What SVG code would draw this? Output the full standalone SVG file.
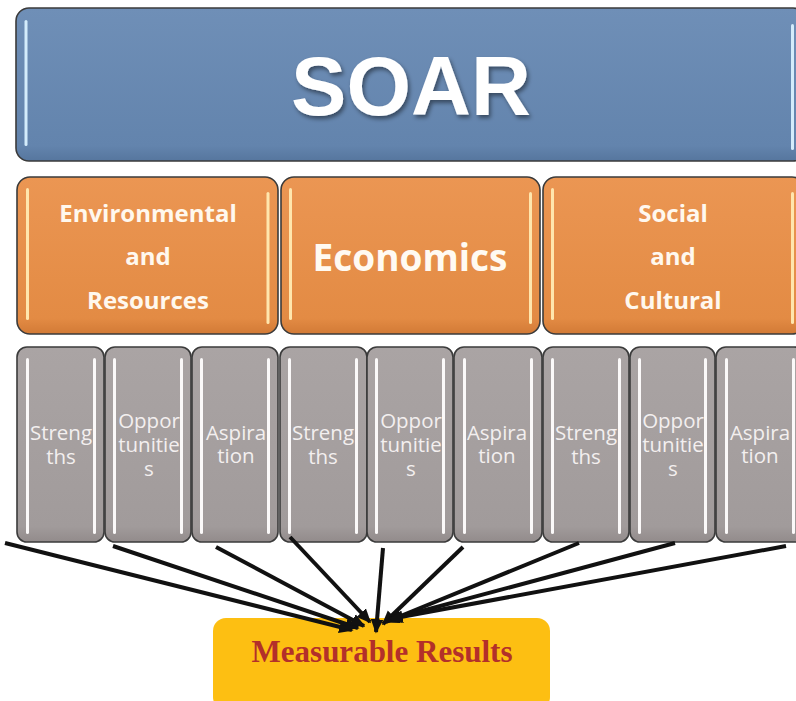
<svg xmlns="http://www.w3.org/2000/svg" width="796" height="701" viewBox="0 0 796 701">
  <style>
    .frame { stroke: #3b3b3b; stroke-width: 1.6; }
    .blue { fill: url(#gBlue); }
    .orange { fill: url(#gOrange); }
    .gray { fill: url(#gGray); }
    .gold { fill: #fdbf12; }
    .hiBlue { fill: #d4ecfb; }
    .hiOrange { fill: #ffe6ad; }
    .hiGray { fill: #fbf9f9; }
    .title { font-family: "Liberation Sans", Arial, sans-serif; font-weight: bold; font-size: 83px; fill: #ffffff; text-anchor: middle; }
    .cat { font-family: "Open Sans", "Noto Sans", sans-serif; font-weight: bold; font-size: 24px; fill: #fff8ee; text-anchor: middle; }
    .catBig { font-family: "Open Sans", "Noto Sans", sans-serif; font-weight: bold; font-size: 37px; fill: #fffaf2; text-anchor: middle; }
    .item { font-family: "Open Sans", "Noto Sans", sans-serif; font-size: 20.5px; fill: #f3efef; text-anchor: middle; }
    .result { font-family: "Liberation Serif", "Times New Roman", serif; font-weight: bold; font-size: 31px; fill: #b3302a; text-anchor: middle; }
    .arrow { stroke: #111111; stroke-width: 4; fill: none; marker-end: url(#head); }
  </style>
  <defs>
    <linearGradient id="gBlue" x1="0" y1="0" x2="0" y2="1">
      <stop offset="0" stop-color="#6f8fb7"/>
      <stop offset="0.9" stop-color="#6384ad"/>
      <stop offset="1" stop-color="#56769e"/>
    </linearGradient>
    <linearGradient id="gOrange" x1="0" y1="0" x2="0" y2="1">
      <stop offset="0" stop-color="#eb9653"/>
      <stop offset="0.9" stop-color="#e38b44"/>
      <stop offset="1" stop-color="#d27a36"/>
    </linearGradient>
    <linearGradient id="gGray" x1="0" y1="0" x2="0" y2="1">
      <stop offset="0" stop-color="#aaa4a4"/>
      <stop offset="0.92" stop-color="#a19b9b"/>
      <stop offset="1" stop-color="#928b8b"/>
    </linearGradient>
    <filter id="shadow" x="-10%" y="-10%" width="130%" height="140%">
      <feDropShadow dx="2" dy="3" stdDeviation="2" flood-color="#000000" flood-opacity="0.45"/>
    </filter>
    <marker id="head" markerWidth="4" markerHeight="4" refX="3.2" refY="2" orient="auto" markerUnits="strokeWidth">
      <path d="M0,0.4 L3.6,2 L0,3.6 Z" fill="#111111"/>
    </marker>
  </defs>

  <rect width="796" height="701" fill="#ffffff"/>

  <!-- Title bar -->
  <g id="soar">
    <rect class="blue frame" x="16" y="8" width="790" height="153" rx="13"/>
    <rect class="hiBlue" x="24.5" y="20" width="3" height="126" rx="1.5"/>
    <rect class="hiBlue" x="791" y="24" width="3" height="126" rx="1.5"/>
    <text class="title" x="411" y="115" filter="url(#shadow)">SOAR</text>
  </g>

  <!-- Category row -->
  <g id="environmental">
    <rect class="orange frame" x="17" y="177" width="261" height="157" rx="13"/>
    <rect class="hiOrange" x="26" y="188" width="3" height="132" rx="1.5"/>
    <rect class="hiOrange" x="266.5" y="192" width="3" height="132" rx="1.5"/>
    <text class="cat" x="148" y="222">Environmental</text>
    <text class="cat" x="148" y="265">and</text>
    <text class="cat" x="148" y="309">Resources</text>
  </g>
  <g id="economics">
    <rect class="orange frame" x="281" y="177" width="259" height="157" rx="13"/>
    <rect class="hiOrange" x="289" y="188" width="3" height="132" rx="1.5"/>
    <rect class="hiOrange" x="529" y="192" width="3" height="132" rx="1.5"/>
    <text class="catBig" x="410" y="271">Economics</text>
  </g>
  <g id="social">
    <rect class="orange frame" x="543" y="177" width="262" height="157" rx="13"/>
    <rect class="hiOrange" x="551" y="188" width="3" height="132" rx="1.5"/>
    <rect class="hiOrange" x="791" y="192" width="3" height="132" rx="1.5"/>
    <text class="cat" x="673" y="222">Social</text>
    <text class="cat" x="673" y="265">and</text>
    <text class="cat" x="673" y="309">Cultural</text>
  </g>

  <!-- SOAR element columns -->
  <g id="strengths-1">
    <rect class="gray frame" x="17" y="347" width="87" height="195" rx="10"/>
    <rect class="hiGray" x="26" y="358" width="3" height="176" rx="1.5"/>
    <rect class="hiGray" x="93" y="358" width="3" height="176" rx="1.5"/>
    <text class="item" x="61" y="440">Streng</text>
    <text class="item" x="61" y="464">ths</text>
  </g>
  <g id="opportunities-1">
    <rect class="gray frame" x="105" y="347" width="86" height="195" rx="10"/>
    <rect class="hiGray" x="113" y="358" width="3" height="176" rx="1.5"/>
    <rect class="hiGray" x="180" y="358" width="3" height="176" rx="1.5"/>
    <text class="item" x="149" y="428">Oppor</text>
    <text class="item" x="149" y="452">tunitie</text>
    <text class="item" x="149" y="476">s</text>
  </g>
  <g id="aspiration-1">
    <rect class="gray frame" x="192" y="347" width="86" height="195" rx="10"/>
    <rect class="hiGray" x="200" y="358" width="3" height="176" rx="1.5"/>
    <rect class="hiGray" x="267" y="358" width="3" height="176" rx="1.5"/>
    <text class="item" x="236" y="440">Aspira</text>
    <text class="item" x="236" y="463">tion</text>
  </g>
  <g id="strengths-2">
    <rect class="gray frame" x="280" y="347" width="87" height="195" rx="10"/>
    <rect class="hiGray" x="288" y="358" width="3" height="176" rx="1.5"/>
    <rect class="hiGray" x="355" y="358" width="3" height="176" rx="1.5"/>
    <text class="item" x="323" y="440">Streng</text>
    <text class="item" x="323" y="464">ths</text>
  </g>
  <g id="opportunities-2">
    <rect class="gray frame" x="367" y="347" width="86" height="195" rx="10"/>
    <rect class="hiGray" x="375" y="358" width="3" height="176" rx="1.5"/>
    <rect class="hiGray" x="442" y="358" width="3" height="176" rx="1.5"/>
    <text class="item" x="411" y="428">Oppor</text>
    <text class="item" x="411" y="452">tunitie</text>
    <text class="item" x="411" y="476">s</text>
  </g>
  <g id="aspiration-2">
    <rect class="gray frame" x="454" y="347" width="88" height="195" rx="10"/>
    <rect class="hiGray" x="463" y="358" width="3" height="176" rx="1.5"/>
    <rect class="hiGray" x="530" y="358" width="3" height="176" rx="1.5"/>
    <text class="item" x="497" y="440">Aspira</text>
    <text class="item" x="497" y="463">tion</text>
  </g>
  <g id="strengths-3">
    <rect class="gray frame" x="543" y="347" width="86" height="195" rx="10"/>
    <rect class="hiGray" x="551" y="358" width="3" height="176" rx="1.5"/>
    <rect class="hiGray" x="618" y="358" width="3" height="176" rx="1.5"/>
    <text class="item" x="586" y="440">Streng</text>
    <text class="item" x="586" y="464">ths</text>
  </g>
  <g id="opportunities-3">
    <rect class="gray frame" x="630" y="347" width="85" height="195" rx="10"/>
    <rect class="hiGray" x="638" y="358" width="3" height="176" rx="1.5"/>
    <rect class="hiGray" x="704" y="358" width="3" height="176" rx="1.5"/>
    <text class="item" x="673" y="428">Oppor</text>
    <text class="item" x="673" y="452">tunitie</text>
    <text class="item" x="673" y="476">s</text>
  </g>
  <g id="aspiration-3">
    <rect class="gray frame" x="716" y="347" width="88" height="195" rx="10"/>
    <rect class="hiGray" x="725" y="358" width="3" height="176" rx="1.5"/>
    <rect class="hiGray" x="792" y="358" width="3" height="176" rx="1.5"/>
    <text class="item" x="760" y="440">Aspira</text>
    <text class="item" x="760" y="463">tion</text>
  </g>

  <!-- Outcome box -->
  <g id="measurable-results">
    <rect class="gold" x="213" y="618" width="337" height="92" rx="13"/>
    <text class="result" x="382" y="662">Measurable Results</text>
  </g>

  <!-- Connectors into the outcome -->
  <g id="connectors">
    <line class="arrow" x1="5" y1="543" x2="352" y2="630"/>
    <line class="arrow" x1="113" y1="546" x2="358" y2="628"/>
    <line class="arrow" x1="216" y1="547" x2="364" y2="626"/>
    <line class="arrow" x1="290" y1="537" x2="370" y2="622"/>
    <line class="arrow" x1="383" y1="548" x2="376" y2="632"/>
    <line class="arrow" x1="463" y1="547" x2="383" y2="624"/>
    <line class="arrow" x1="579" y1="543" x2="386" y2="622"/>
    <line class="arrow" x1="675" y1="543" x2="388" y2="620"/>
    <line class="arrow" x1="786" y1="546" x2="390" y2="619"/>
  </g>
</svg>
